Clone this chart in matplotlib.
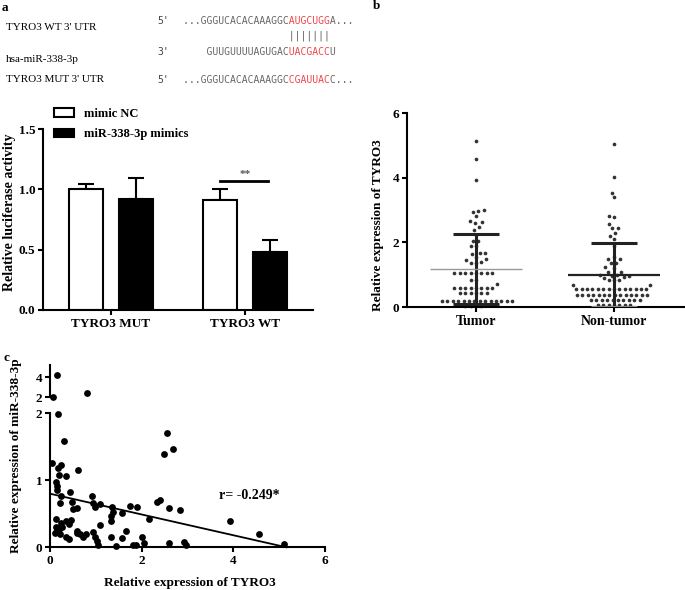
import numpy as np
import matplotlib
matplotlib.use("Agg")
import matplotlib.pyplot as plt
from matplotlib.patches import Patch

# ---- panel a: sequences ----
wt_seq = "...GGGUCACACAAAGGCAUGCUGGA..."
mir_seq = "    GUUGUUUUAGUGACUACGACCU"
mut_seq = "...GGGUCACACAAAGGCCGAUUACC..."
seed_span = (18, 25)
pair_marks = "|||||||"

# ---- panel a: luciferase assay ----
groups = ["TYRO3 MUT", "TYRO3 WT"]
nc_mean = [1.00, 0.91]
nc_err = [0.044, 0.09]
mimic_mean = [0.92, 0.48]
mimic_err = [0.17, 0.10]

# ---- panel b: TYRO3 expression ----
b_groups = ["Tumor", "Non-tumor"]
tumor = [5.12, 4.58, 3.93, 2.99, 2.97, 2.95, 2.82, 2.67, 2.62, 2.59, 2.48, 2.38,
         2.22, 2.05, 2.03, 1.90, 1.88, 1.68, 1.66, 1.64, 1.54, 1.47, 1.45, 1.38,
         1.36, 1.35, 1.05, 1.05, 1.05, 1.05, 1.05, 1.05, 1.05, 1.05, 0.84, 0.84,
         0.70, 0.60, 0.60, 0.60, 0.60, 0.60, 0.60, 0.60, 0.60, 0.43, 0.43, 0.43,
         0.43, 0.43, 0.43, 0.19, 0.19, 0.19, 0.19, 0.19, 0.19, 0.19, 0.19, 0.19,
         0.19, 0.19, 0.19, 0.19, 0.19, 0.03, 0.03, 0.03, 0.03]
non_tumor = [5.04, 4.01, 3.54, 3.39, 2.82, 2.78, 2.57, 2.43, 2.43, 2.28, 2.20,
             2.09, 1.88, 1.56, 1.50, 1.49, 1.37, 1.36, 1.23, 1.22, 1.09, 1.08,
             1.00, 0.98, 0.97, 0.95, 0.93, 0.90, 0.83, 0.82, 0.82, 0.68, 0.67,
             0.55, 0.55, 0.55, 0.55, 0.55, 0.55, 0.55, 0.55, 0.55, 0.55, 0.55,
             0.55, 0.55, 0.55, 0.37, 0.37, 0.37, 0.37, 0.37, 0.37, 0.37, 0.37,
             0.37, 0.37, 0.37, 0.37, 0.37, 0.37, 0.22, 0.22, 0.22, 0.22, 0.22,
             0.22, 0.22, 0.22, 0.22, 0.22, 0.06, 0.06, 0.06, 0.06, 0.06, 0.06,
             0.06]
b_mean = [1.17, 0.99]
b_sd_low = [0.09, 0.01]
b_sd_high = [2.25, 1.97]

# ---- panel c: correlation ----
c_x = [0.16, 0.07, 0.81, 0.18, 0.31, 2.56, 2.49, 2.68, 0.05, 0.25, 0.18, 0.62,
       0.36, 0.20, 0.13, 0.15, 0.15, 0.44, 0.23, 0.22, 0.47, 0.51, 0.58, 0.91,
       0.94, 1.09, 0.99, 1.35, 1.37, 1.57, 1.33, 1.33, 1.75, 1.89, 2.17, 2.34,
       2.40, 2.60, 2.84, 0.13, 0.24, 0.34, 0.46, 0.41, 0.13, 0.16, 0.22, 0.12,
       0.34, 0.42, 0.58, 0.65, 0.73, 0.78, 0.94, 0.99, 1.02, 1.05, 1.09, 1.33,
       1.45, 1.57, 1.66, 1.80, 1.88, 2.00, 2.05, 2.60, 2.93, 2.97, 3.93, 4.57,
       5.11, 0.20, 0.27, 0.60]
c_y = [4.23, 2.02, 2.46, 1.99, 1.59, 1.70, 1.39, 1.47, 1.26, 1.23, 1.19, 1.15,
       1.07, 1.08, 0.98, 0.92, 0.86, 0.82, 0.76, 0.66, 0.68, 0.57, 0.58, 0.77,
       0.66, 0.65, 0.60, 0.60, 0.52, 0.51, 0.47, 0.40, 0.62, 0.60, 0.42, 0.67,
       0.71, 0.58, 0.55, 0.42, 0.37, 0.40, 0.41, 0.35, 0.30, 0.25, 0.20, 0.22,
       0.15, 0.12, 0.25, 0.20, 0.16, 0.20, 0.23, 0.15, 0.10, 0.03, 0.33, 0.16,
       0.02, 0.14, 0.24, 0.04, 0.04, 0.15, 0.07, 0.07, 0.08, 0.04, 0.40, 0.20,
       0.05, 0.28, 0.30, 0.21]
fit_intercept = 0.80
fit_slope = -0.155
fit_xmax = 5.16
r_text = "r= -0.249*"

plt.rcParams["font.family"] = "serif"
plt.rcParams["font.serif"] = ["Liberation Serif", "DejaVu Serif"]
plt.rcParams["font.weight"] = "bold"
plt.rcParams["axes.labelweight"] = "bold"
plt.rcParams["axes.linewidth"] = 1.5
plt.rcParams["xtick.major.width"] = 1.5
plt.rcParams["ytick.major.width"] = 1.5
plt.rcParams["xtick.major.size"] = 3.5
plt.rcParams["ytick.major.size"] = 3.5
plt.rcParams["xtick.labelsize"] = 9.5
plt.rcParams["ytick.labelsize"] = 9.5

W, H = 685, 590
fig = plt.figure(figsize=(W / 100, H / 100), dpi=100)


def px_axes(left, top, right, bottom):
    return fig.add_axes([left / W, 1 - bottom / H, (right - left) / W, (bottom - top) / H])


def ftext(x, y, s, **kw):
    fig.text(x / W, 1 - y / H, s, **kw)


def clean(ax):
    ax.spines["top"].set_visible(False)
    ax.spines["right"].set_visible(False)


# ---------------- panel a text ----------------
ftext(2, 8, "a", fontsize=9.5, va="center")
lab_kw = dict(fontsize=8, fontweight="normal", va="center")
ftext(6, 28, "TYRO3 WT 3' UTR", **lab_kw)
ftext(6, 60, "hsa-miR-338-3p", **lab_kw)
ftext(6, 80, "TYRO3 MUT 3' UTR", **lab_kw)

mono = dict(family="DejaVu Sans Mono", fontsize=7, fontweight="normal", va="center")
gray = "#666666"
red = "#f0454a"


def seq_line(y, seq):
    a, b = seed_span
    g = "".join(c if not (a <= i < b) else " " for i, c in enumerate(seq))
    r = "".join(c if (a <= i < b) else " " for i, c in enumerate(seq))
    ftext(183, y, g, color=gray, **mono)
    ftext(183, y, r, color=red, **mono)


for y, end in [(21, "5'"), (52, "3'"), (80, "5'")]:
    ftext(157, y, end, color="#444444", **mono)
seq_line(21, wt_seq)
ftext(183, 36, " " * seed_span[0] + pair_marks, color=gray, **mono)
seq_line(52, mir_seq)
seq_line(80, mut_seq)

# ---------------- panel a bars ----------------
ax = px_axes(43, 129, 313, 310)
clean(ax)
xpos = np.arange(len(groups))
off, bw = 0.187, 0.254
ax.bar(xpos - off, nc_mean, bw, color="white", edgecolor="black", linewidth=1.5, zorder=2)
ax.bar(xpos + off, mimic_mean, bw, color="black", edgecolor="black", linewidth=1.5, zorder=2)
ax.errorbar(xpos - off, nc_mean, yerr=[np.zeros(2), nc_err], fmt="none",
            ecolor="black", elinewidth=1.5, capsize=5.5, capthick=1.5, zorder=1)
ax.errorbar(xpos + off, mimic_mean, yerr=[np.zeros(2), mimic_err], fmt="none",
            ecolor="black", elinewidth=1.5, capsize=5.5, capthick=1.5, zorder=1)
ax.plot([1 - off, 1 + 0.17], [1.069, 1.069], color="black", lw=2)
ax.text(1.0, 1.085, "**", ha="center", va="bottom", fontsize=8, color="#555555")
ax.set_xlim(-0.507, 1.507)
ax.set_ylim(0, 1.5)
ax.set_yticks([0, 0.5, 1.0, 1.5])
ax.set_yticklabels(["0.0", "0.5", "1.0", "1.5"])
ax.set_xticks(xpos)
ax.set_xticklabels(groups)
ax.tick_params(pad=2)
ftext(10, 212, "Relative luciferase activity", fontsize=10, rotation=90,
      ha="center", va="center")
handles = [Patch(facecolor="white", edgecolor="black", linewidth=1.5),
           Patch(facecolor="black", edgecolor="black", linewidth=1.5)]
fig.legend(handles, ["mimic NC", "miR-338-3p mimics"], loc="upper left",
           bbox_to_anchor=(54 / W, 1 - 108 / H), frameon=False, fontsize=9,
           borderpad=0, borderaxespad=0, handlelength=1.6, handleheight=0.65,
           handletextpad=0.8, labelspacing=0.65)

# ---------------- panel b ----------------
ftext(373, 6, "b", fontsize=9.5, va="center")
axb = px_axes(407, 113, 685, 307)
clean(axb)
ypx = 194 / 6.0
xpx = 138.0


def swarm(values, d):
    vals = np.asarray(values) * ypx
    order = np.argsort(vals, kind="stable")
    placed = []
    offs = np.zeros(len(vals))
    for i in order:
        y = vals[i]
        near = [(px, py) for px, py in placed if abs(py - y) < d]
        cands = [0.0]
        for px, py in near:
            dx = np.sqrt(d ** 2 - (py - y) ** 2)
            cands += [px - dx, px + dx]
        cands.sort(key=lambda c: (abs(round(c, 3)), c))
        for c in cands:
            if all((c - px) ** 2 + (y - py) ** 2 >= d ** 2 - 1e-6 for px, py in near):
                offs[i] = c
                break
        placed.append((offs[i], y))
    return offs / xpx


for k, vals in enumerate([tumor, non_tumor]):
    axb.scatter(k + swarm(vals, 5.4), vals, s=7, color="#333333", linewidths=0,
                zorder=2, clip_on=False)

# tumor: thick SD bar, thin grey mean
axb.vlines(0, b_sd_low[0], b_sd_high[0], color="#222222", lw=2.2, zorder=3)
axb.hlines([b_sd_low[0], b_sd_high[0]], -0.165, 0.165, color="#222222", lw=2.2, zorder=3)
axb.hlines(b_mean[0], -0.33, 0.33, color="#999999", lw=1.0, zorder=3)
# non-tumor
axb.vlines(1, b_sd_low[1], b_sd_high[1], color="#222222", lw=2.2, zorder=3)
axb.hlines(b_sd_high[1], 1 - 0.165, 1 + 0.165, color="#222222", lw=2.2, zorder=3)
axb.hlines(b_sd_low[1], 1 - 0.165, 1 + 0.165, color="#888888", lw=2.2, zorder=3)
axb.hlines(b_mean[1], 1 - 0.33, 1 + 0.33, color="#222222", lw=1.6, zorder=3)
axb.set_xlim(-0.5, 1.514)
axb.set_ylim(0, 6)
axb.set_yticks([0, 2, 4, 6])
axb.set_xticks([0, 1])
axb.set_xticklabels(b_groups, fontsize=10)
axb.tick_params(pad=2)
ftext(378, 225, "Relative expression of TYRO3", fontsize=9.5, rotation=90,
      ha="center", va="center")

# ---------------- panel c ----------------
ftext(3, 358, "c", fontsize=9.5, va="center")
cx = np.array(c_x)
cy = np.array(c_y)
low = cy <= 2.0
axc = px_axes(50, 413.3, 325, 547.3)
clean(axc)
axc.scatter(cx[low], cy[low], s=24, color="black", linewidths=0, clip_on=False, zorder=3)
xs = np.array([0, fit_xmax])
axc.plot(xs, fit_intercept + fit_slope * xs, color="black", lw=1.3, clip_on=False)
axc.set_xlim(0, 6)
axc.set_ylim(0, 2)
axc.set_xticks([0, 2, 4, 6])
axc.set_yticks([0, 1, 2])
axc.tick_params(pad=2)
axc.text(4.35, 0.78, r_text, fontsize=10, ha="center", va="center")

axu = px_axes(50, 365, 325, 397.3)
for s in ["top", "right", "bottom"]:
    axu.spines[s].set_visible(False)
axu.scatter(cx[~low], cy[~low], s=24, color="black", linewidths=0, clip_on=False, zorder=3)
axu.set_xlim(0, 6)
axu.set_ylim(2, 5.23)
axu.set_yticks([2, 4])
axu.set_xticks([])
axu.tick_params(pad=2)

ftext(16, 456, "Relative expression of miR-338-3p", fontsize=9.5, rotation=90,
      ha="center", va="center")
ftext(190, 583, "Relative expression of TYRO3", fontsize=9.5, ha="center", va="center")

fig.savefig("out.png", dpi=100)
